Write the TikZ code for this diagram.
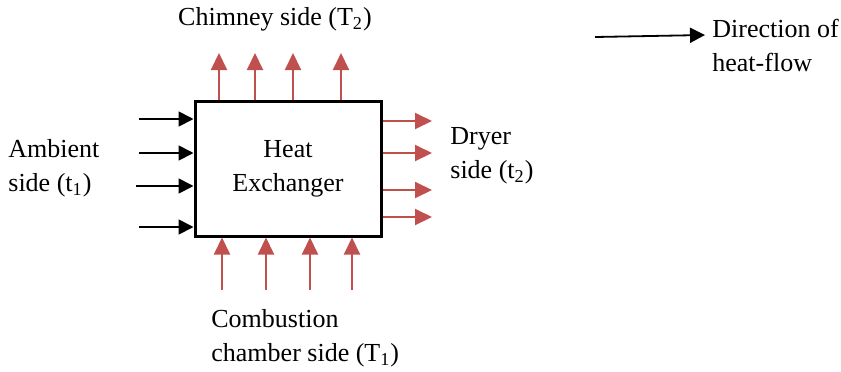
\documentclass[tikz,border=0pt]{standalone}
\usepackage{fontspec}
\setmainfont{Liberation Serif}
\usepackage{xcolor}
\usetikzlibrary{arrows.meta, calc, positioning}
\definecolor{heatred}{RGB}{192,80,77}

\begin{document}
\begin{tikzpicture}[
  x=0.5pt, y=-0.5pt,
  lbl/.style={inner sep=0pt, align=left, font=\fontsize{13}{17}\selectfont},
  hx/.style={draw, line width=1.5pt, minimum width=93pt, minimum height=67.5pt,
             align=center, inner sep=0pt, font=\fontsize{13}{17}\selectfont},
  cold/.style={-{Triangle[length=7.5pt,width=7.5pt]}, line width=0.9pt, black},
  hot/.style={-{Triangle[length=8.5pt,width=8pt]}, line width=1pt, heatred},
]
\useasboundingbox (0,0) rectangle (841,371);
% Heat exchanger box
\node[hx] (hx) at (288,168.5) {Heat\\Exchanger};
% Side labels
\node[lbl, anchor=center] (chim) at (275,19) {Chimney side (T\textsubscript{2})};
\node[lbl, anchor=west] (amb) at (8,168) {Ambient\\side (t\textsubscript{1})};
\node[lbl, anchor=west] (dry) at (450,156) {Dryer\\side (t\textsubscript{2})};
\node[lbl, anchor=west] (comb) at (211,338) {Combustion\\chamber side (T\textsubscript{1})};
\node[lbl, anchor=west] (dir) at (712,45) {Direction of\\heat-flow};
% Ambient side (inflow)
\coordinate (a1) at (139,119);
\coordinate (a2) at (139,153);
\coordinate (a3) at (136,186);
\coordinate (a4) at (139,227);
\foreach \c in {a1,a2,a3,a4}
  \draw[cold] (\c) -- (\c -| hx.west);
% Chimney side (outflow)
\coordinate (c1) at (219,53);
\coordinate (c2) at (255,53);
\coordinate (c3) at (293,53);
\coordinate (c4) at (341,53);
\foreach \c in {c1,c2,c3,c4}
  \draw[hot] (\c |- hx.north) -- (\c);
% Dryer side (outflow)
\coordinate (d1) at (432,121);
\coordinate (d2) at (432,153);
\coordinate (d3) at (432,190);
\coordinate (d4) at (432,217);
\foreach \c in {d1,d2,d3,d4}
  \draw[hot] (\c -| hx.east) -- (\c);
% Combustion chamber side (inflow)
\coordinate (b1) at (222,290);
\coordinate (b2) at (266,290);
\coordinate (b3) at (310,290);
\coordinate (b4) at (352,290);
\foreach \c in {b1,b2,b3,b4}
  \draw[hot] (\c) -- (\c |- hx.south);
% Legend
\coordinate (l0) at (595,37);
\coordinate (l1) at (705,35);
\draw[cold] (l0) -- (l1);
\end{tikzpicture}
\end{document}
